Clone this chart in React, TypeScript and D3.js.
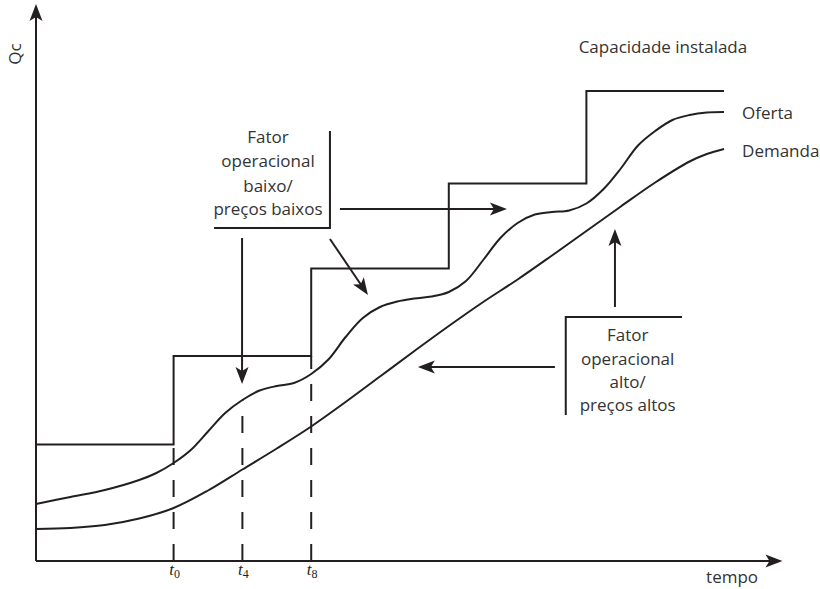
import React from "react";
import * as d3 from "d3";

// ---- data (time units t, quantity units v) ----
const tickTimes = [0, 4, 8];
const tickSubs = ["0", "4", "8"];

const capacityT = [-8, 0, 8, 16, 24, 32];
const capacityV = [23.3, 41, 58.5, 75.5, 94, 94];

const ofertaT = [-8, -6, -4, -2, -1, 0, 1, 2, 3, 4, 5, 6, 7, 8, 9, 10, 11, 12, 13, 14, 15, 16, 17, 18, 19, 20, 21, 22, 23, 24, 25, 26, 27, 28, 29, 30, 31, 32];
const ofertaV = [11.4, 12.8, 14.2, 16.2, 17.6, 19.6, 22.2, 25.9, 29.6, 32.2, 34.1, 35, 35.6, 37.4, 40.3, 44.8, 48.6, 50.8, 51.9, 52.5, 52.9, 53.8, 56, 60.2, 64.6, 67.6, 69.3, 69.8, 70.1, 71.5, 74.4, 78.5, 83.1, 86, 88.2, 89.2, 89.7, 89.8];

const demandaT = [-8, -6, -4, -2, 0, 2, 4, 6, 8, 10, 12, 14, 16, 18, 20, 22, 24, 26, 28, 30, 31, 32];
const demandaV = [6.4, 6.6, 7.2, 8.5, 10.6, 14.1, 18.3, 22.5, 26.9, 31.8, 36.9, 42, 47, 51.8, 56.3, 61.1, 66, 70.9, 75.7, 79.9, 81.4, 82.4];

const labelCapacidade = "Capacidade instalada";
const labelOferta = "Oferta";
const labelDemanda = "Demanda";
const labelTempo = "tempo";
const labelQc = "Qc";
const box1Lines = ["Fator", "operacional", "baixo/", "preços baixos"];
const box2Lines = ["Fator", "operacional", "alto/", "preços altos"];

const W = 820;
const H = 589;
const INK = "#231f20";
const TEXT = "#333333";
const FONT = "'Open Sans', 'Noto Sans', sans-serif";

const x = d3.scaleLinear().domain([-8, 36]).range([36, 792.8]);
const y = d3.scaleLinear().domain([0, 110]).range([561, 11]);

function arrowHead(x1: number, y1: number, x2: number, y2: number, len = 17, half = 6.5, notch = 4) {
  const a = Math.atan2(y2 - y1, x2 - x1);
  const c = Math.cos(a), s = Math.sin(a);
  const pt = (u: number, v: number) => [x2 + u * c - v * s, y2 + u * s + v * c];
  const p1 = pt(-len, -half);
  const p2 = pt(-len + notch, 0);
  const p3 = pt(-len, half);
  return `M${x2},${y2}L${p1[0]},${p1[1]}L${p2[0]},${p2[1]}L${p3[0]},${p3[1]}Z`;
}

function Arrow({ t1, v1, t2, v2 }: { t1: number; v1: number; t2: number; v2: number }) {
  const X1 = x(t1), Y1 = y(v1), X2 = x(t2), Y2 = y(v2);
  const a = Math.atan2(Y2 - Y1, X2 - X1);
  const ex = X2 - Math.cos(a) * 10, ey = Y2 - Math.sin(a) * 10;
  return (
    <g>
      <line x1={X1} y1={Y1} x2={ex} y2={ey} stroke={INK} strokeWidth={2} />
      <path d={arrowHead(X1, Y1, X2, Y2)} fill={INK} />
    </g>
  );
}

export default function App() {
  const line = d3
    .line<[number, number]>()
    .x((d) => x(d[0]))
    .y((d) => y(d[1]))
    .curve(d3.curveCatmullRom.alpha(0.5));
  const step = d3
    .line<[number, number]>()
    .x((d) => x(d[0]))
    .y((d) => y(d[1]))
    .curve(d3.curveStepAfter);

  const oferta = ofertaT.map((t, i) => [t, ofertaV[i]] as [number, number]);
  const demanda = demandaT.map((t, i) => [t, demandaV[i]] as [number, number]);
  const capacity = capacityT.map((t, i) => [t, capacityV[i]] as [number, number]);

  const ofertaAt = (t: number) => ofertaV[ofertaT.indexOf(t)];
  const dashTops = [capacityV[0], ofertaAt(4), capacityV[1]];

  return (
    <div style={{ position: "absolute", left: 0, top: 0 }}>
      <svg width={W} height={H} style={{ display: "block", background: "#fff" }}>
        {/* axes */}
        <line x1={x(-8)} y1={y(0)} x2={x(-8)} y2={y(111.4) + 10} stroke={INK} strokeWidth={2} />
        <path d={arrowHead(x(-8), y(0), x(-8), y(111.4))} fill={INK} />
        <line x1={x(-8)} y1={y(0)} x2={x(35.4) - 10} y2={y(0)} stroke={INK} strokeWidth={2} />
        <path d={arrowHead(x(-8), y(0), x(35.4), y(0))} fill={INK} />

        {/* dashed time markers */}
        {tickTimes.map((t, i) => (
          <line
            key={"d" + i}
            x1={x(t)}
            y1={y(0)}
            x2={x(t)}
            y2={y(dashTops[i])}
            stroke={INK}
            strokeWidth={2}
            strokeDasharray="17,15"
          />
        ))}

        {/* capacity steps */}
        <path d={step(capacity) || ""} fill="none" stroke={INK} strokeWidth={2} />
        {/* curves */}
        <path d={line(oferta) || ""} fill="none" stroke={INK} strokeWidth={2} />
        <path d={line(demanda) || ""} fill="none" stroke={INK} strokeWidth={2} />

        {/* box 1 */}
        <path
          d={`M${x(9.09)},${y(86)}L${x(9.09)},${y(66.6)}L${x(2.35)},${y(66.6)}`}
          fill="none"
          stroke={INK}
          strokeWidth={2}
        />
        {box1Lines.map((s, i) => (
          <text
            key={"b1" + i}
            x={x(5.49)}
            y={y([83.6, 78.8, 73.8, 69.2][i])}
            textAnchor="middle"
            fontFamily={FONT}
            fontSize={17}
            fill={TEXT}
          >
            {s}
          </text>
        ))}
        <Arrow t1={9.67} v1={70.4} t2={19.38} v2={70.4} />
        <Arrow t1={9.09} v1={64.4} t2={11.3} v2={53.2} />
        <Arrow t1={3.98} v1={64.6} t2={3.98} v2={35.4} />

        {/* box 2 */}
        <path
          d={`M${x(29.56)},${y(48.8)}L${x(22.8)},${y(48.8)}L${x(22.8)},${y(29.2)}`}
          fill="none"
          stroke={INK}
          strokeWidth={2}
        />
        {box2Lines.map((s, i) => (
          <text
            key={"b2" + i}
            x={x(26.4)}
            y={y([44, 39.2, 34.6, 30][i])}
            textAnchor="middle"
            fontFamily={FONT}
            fontSize={17}
            fill={TEXT}
          >
            {s}
          </text>
        ))}
        <Arrow t1={22.17} v1={38.8} t2={14.2} v2={38.8} />
        <Arrow t1={25.66} v1={50.8} t2={25.66} v2={66.4} />

        {/* labels */}
        <text x={x(28.45)} y={y(101.6)} textAnchor="middle" fontFamily={FONT} fontSize={17} fill={TEXT}>
          {labelCapacidade}
        </text>
        <text x={x(33.05)} y={y(88.4)} fontFamily={FONT} fontSize={17} fill={TEXT}>
          {labelOferta}
        </text>
        <text x={x(33.05)} y={y(80.8)} fontFamily={FONT} fontSize={17} fill={TEXT}>
          {labelDemanda}
        </text>
        <text x={x(32.47)} y={y(-4.4)} textAnchor="middle" fontFamily={FONT} fontSize={17} fill={TEXT}>
          {labelTempo}
        </text>
        <text
          transform={`translate(${x(-8) - 15},${y(101.4)}) rotate(-90)`}
          textAnchor="middle"
          fontFamily={FONT}
          fontSize={17}
          fill={TEXT}
        >
          {labelQc}
        </text>

        {/* tick labels */}
        {tickTimes.map((t, i) => (
          <text
            key={"t" + i}
            x={x(t) + 1}
            y={y(-2.8)}
            textAnchor="middle"
            fontFamily="'Liberation Serif', 'DejaVu Serif', serif"
            fill={INK}
          >
            <tspan fontStyle="italic" fontSize={17}>t</tspan>
            <tspan fontSize={12} dy={3}>{tickSubs[i]}</tspan>
          </text>
        ))}
      </svg>
    </div>
  );
}
